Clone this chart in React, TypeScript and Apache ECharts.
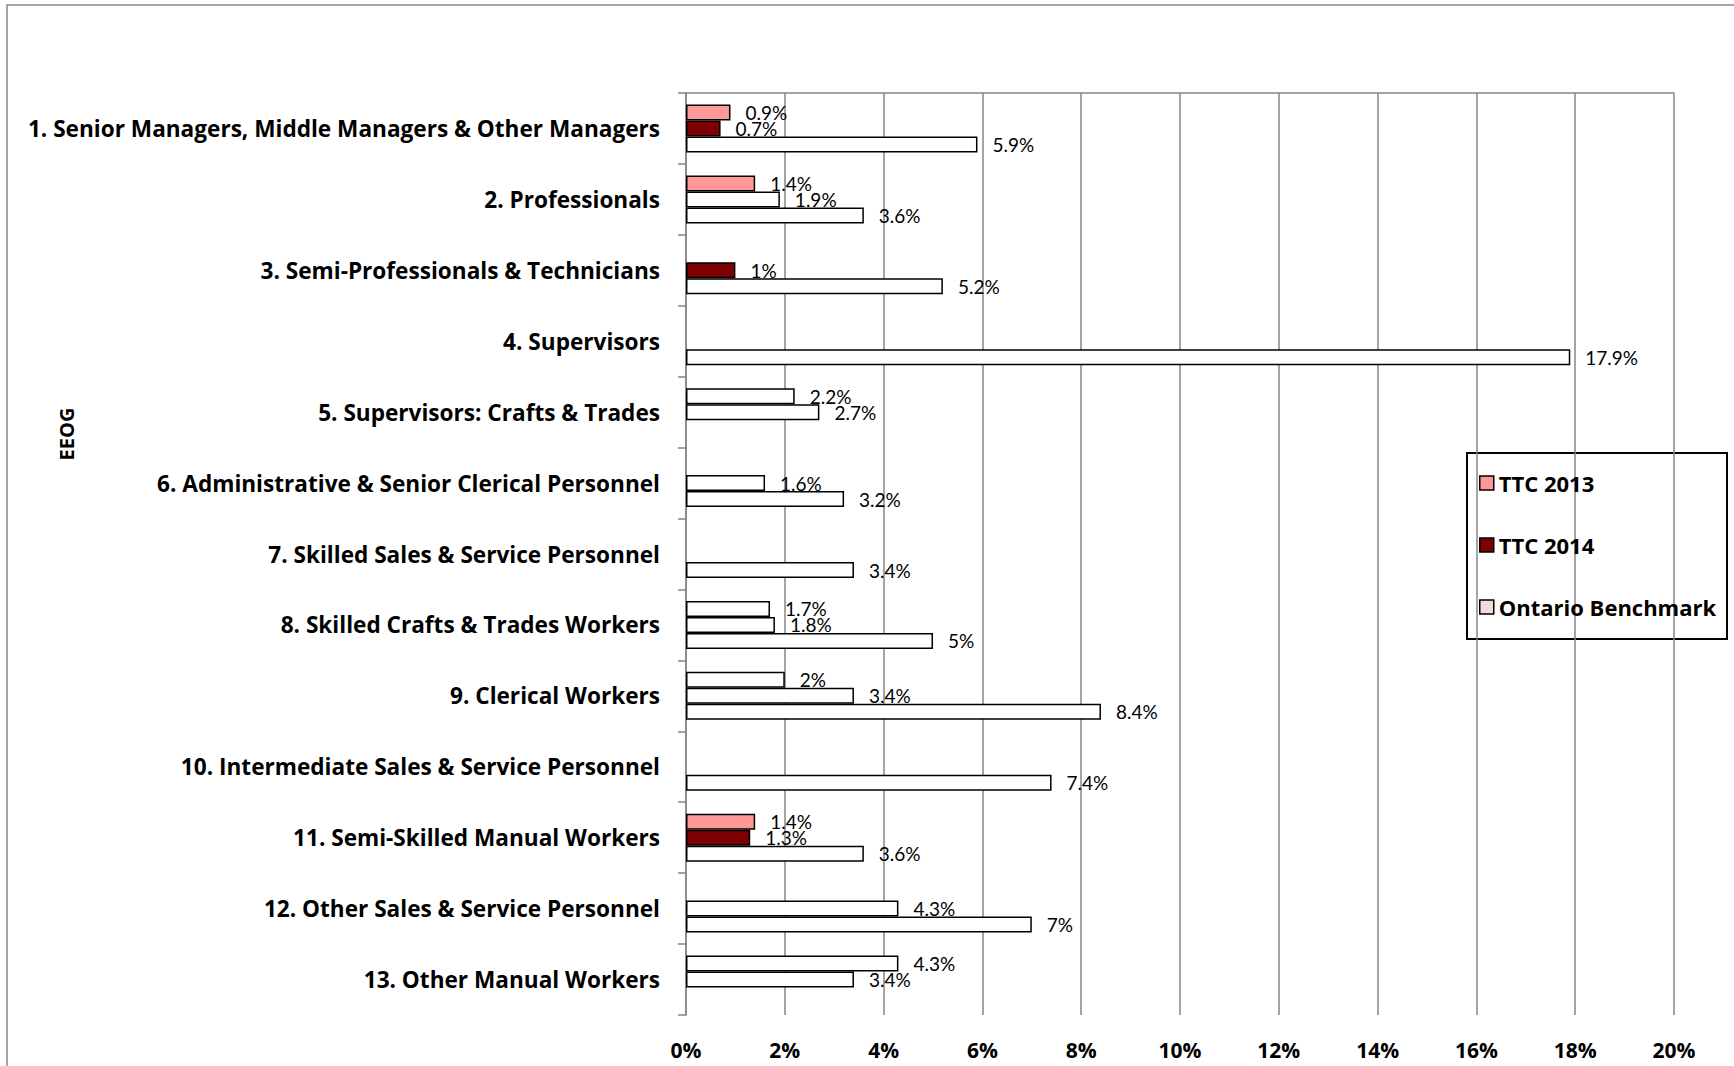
import React, { useEffect, useRef } from "react";
import * as echarts from "echarts";

const categories = [
  "1. Senior Managers, Middle Managers & Other Managers",
  "2. Professionals",
  "3. Semi-Professionals & Technicians",
  "4. Supervisors",
  "5. Supervisors: Crafts & Trades",
  "6. Administrative & Senior Clerical Personnel",
  "7. Skilled Sales & Service Personnel",
  "8. Skilled Crafts & Trades Workers",
  "9. Clerical Workers",
  "10. Intermediate Sales & Service Personnel",
  "11. Semi-Skilled Manual Workers",
  "12. Other Sales & Service Personnel",
  "13. Other Manual Workers",
];

const seriesNames = ["TTC 2013", "TTC 2014", "Ontario Benchmark"];

const ttc2013 = [0.9, 1.4, null, null, 2.2, null, null, 1.7, 2, null, 1.4, null, 4.3];
const ttc2014 = [0.7, 1.9, 1, null, 2.7, 1.6, null, 1.8, 3.4, null, 1.3, 4.3, 3.4];
const benchmark = [5.9, 3.6, 5.2, 17.9, null, 3.2, 3.4, 5, 8.4, 7.4, 3.6, 7, null];

// which points are shown in the series colour (others are drawn unfilled)
const ttc2013Highlighted = [true, true, false, false, false, false, false, false, false, false, true, false, false];
const ttc2014Highlighted = [true, false, true, false, false, false, false, false, false, false, true, false, false];
const benchmarkHighlighted = [false, false, false, false, false, false, false, false, false, false, false, false, false];

const xTicks = [0, 2, 4, 6, 8, 10, 12, 14, 16, 18, 20];

const BOLD_FONT = "'Open Sans', Lato, sans-serif";
const LABEL_FONT = "Lato, 'Open Sans', sans-serif";
const COLORS = ["#FF9999", "#7F0000", "#F2DCDB"];

function buildData(values: (number | null)[], highlighted: boolean[]) {
  return values.map((v, i) =>
    v === null
      ? null
      : {
          value: v,
          itemStyle: { color: highlighted[i] ? undefined : "#FFFFFF" },
        }
  );
}

export default function App() {
  const ref = useRef<HTMLDivElement>(null);

  useEffect(() => {
    document.body.style.margin = "0";
    const chart = echarts.init(ref.current!, null, { renderer: "svg" });

    const makeSeries = (name: string, values: (number | null)[], hl: boolean[], color: string) => ({
      name,
      type: "bar",
      barWidth: 16,
      barGap: "0%",
      itemStyle: { color, borderColor: "#000", borderWidth: 1.5 },
      label: {
        show: true,
        position: "right",
        distance: 15,
        formatter: (p: any) => `${p.value}%`,
        fontFamily: LABEL_FONT,
        fontSize: 19,
        color: "#000",
      },
      data: buildData(values, hl),
    });

    chart.setOption({
      animation: false,
      backgroundColor: "#fff",
      grid: {
        left: 686,
        top: 93,
        width: 988,
        height: 922,
        outerBoundsMode: "none",
        containLabel: false,
      },
      legend: {
        orient: "vertical",
        left: 1479,
        top: 472,
        padding: 0,
        itemGap: 40,
        itemWidth: 14,
        itemHeight: 14,
        icon: "rect",
        itemStyle: { borderColor: "#000", borderWidth: 1.5 },
        textStyle: { fontFamily: BOLD_FONT, fontSize: 22, fontWeight: "bold", color: "#000" },
        data: seriesNames,
      },
      xAxis: [
        {
          type: "value",
          min: xTicks[0],
          max: xTicks[xTicks.length - 1],
          interval: 2,
          axisLine: { show: false },
          axisTick: { show: false },
          splitLine: { show: true, lineStyle: { color: "#868686", width: 1.5 } },
          axisLabel: {
            formatter: "{value}%",
            fontFamily: BOLD_FONT,
            fontSize: 21,
            fontWeight: "bold",
            color: "#000",
            margin: 24,
          },
        },
        {
          type: "value",
          position: "top",
          min: xTicks[0],
          max: xTicks[xTicks.length - 1],
          axisLine: { show: true, lineStyle: { color: "#868686", width: 1.5 } },
          axisTick: { show: false },
          axisLabel: { show: false },
          splitLine: { show: false },
        },
      ],
      yAxis: {
        type: "category",
        inverse: true,
        data: categories,
        axisLine: { show: true, lineStyle: { color: "#868686", width: 1.5 } },
        axisTick: { show: true, length: 8, lineStyle: { color: "#868686", width: 1.5 } },
        axisLabel: {
          fontFamily: BOLD_FONT,
          fontSize: 22.6,
          fontWeight: "bold",
          color: "#000",
          margin: 26,
        },
      },
      graphic: [
        {
          type: "rect",
          shape: { x: 7, y: 5, width: 1800, height: 1200 },
          style: { fill: "none", stroke: "#898989", lineWidth: 1.5 },
          silent: true,
        },
        {
          type: "rect",
          shape: { x: 1467, y: 453, width: 260, height: 186 },
          style: { fill: "#fff", stroke: "#000", lineWidth: 2 },
          z: 0,
          silent: true,
        },
        {
          type: "text",
          x: 66,
          y: 434,
          rotation: Math.PI / 2,
          style: {
            text: "EEOG",
            fontFamily: BOLD_FONT,
            fontSize: 20,
            fontWeight: "bold",
            fill: "#000",
            align: "center",
            verticalAlign: "middle",
          },
        },
      ],
      series: [
        makeSeries(seriesNames[0], ttc2013, ttc2013Highlighted, COLORS[0]),
        makeSeries(seriesNames[1], ttc2014, ttc2014Highlighted, COLORS[1]),
        makeSeries(seriesNames[2], benchmark, benchmarkHighlighted, COLORS[2]),
      ],
    });

    return () => chart.dispose();
  }, []);

  return <div ref={ref} style={{ width: 1734, height: 1066 }} />;
}
